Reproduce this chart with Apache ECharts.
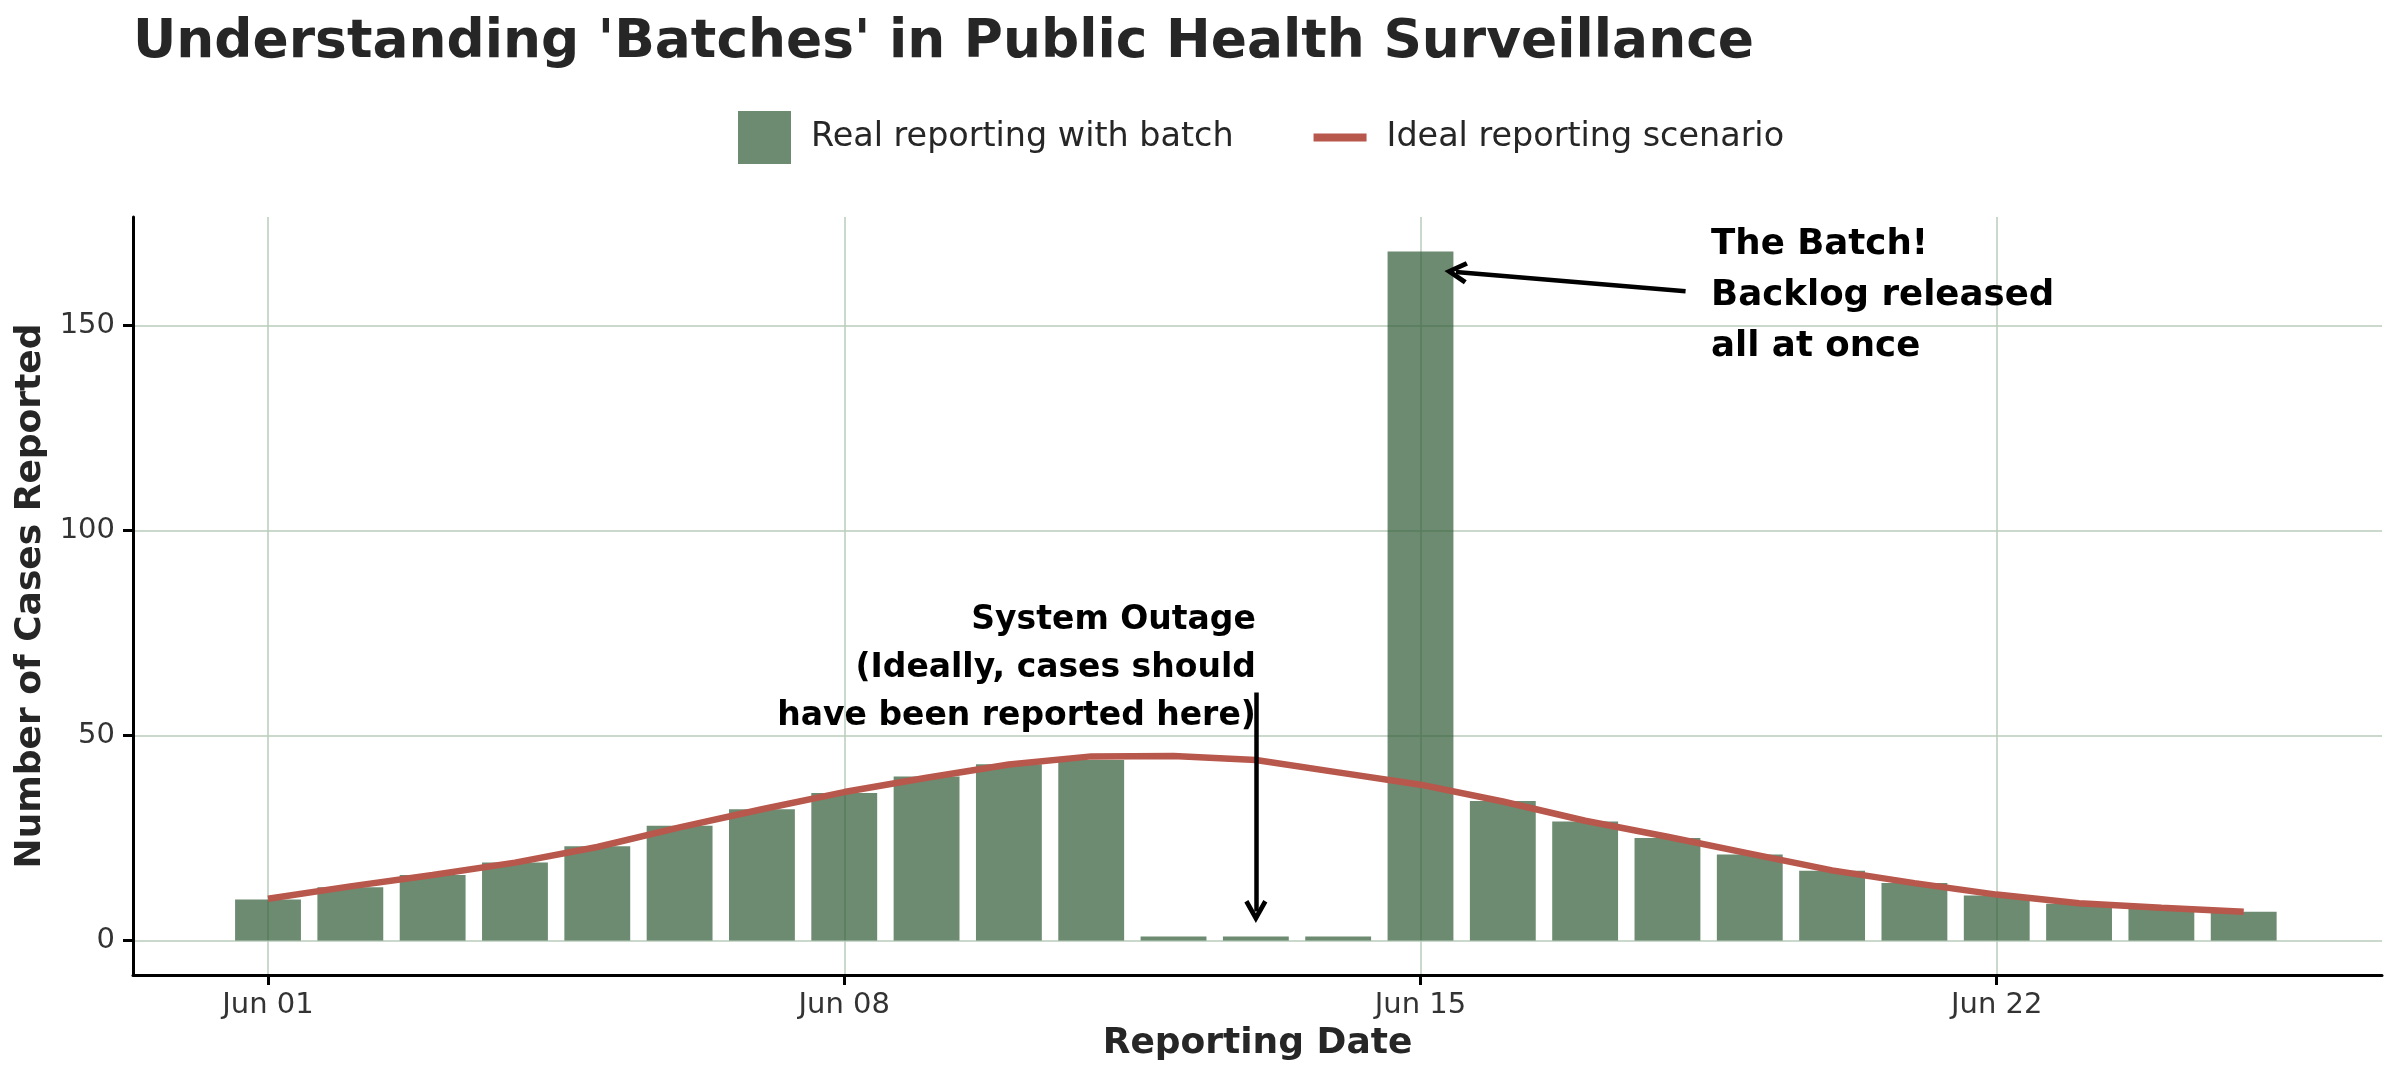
<!DOCTYPE html>
<html>
<head>
<meta charset="utf-8">
<script src="https://cdn.jsdelivr.net/npm/echarts@6/dist/echarts.min.js"></script>
<style>
  html, body { margin: 0; padding: 0; background: #fff; }
  #chart { width: 2400px; height: 1080px; }
</style>
</head>
<body>
<div id="chart"></div>
<script>
// reporting days, Jun 01 .. Jun 25
const reportDates = ['Jun 01', 'Jun 02', 'Jun 03', 'Jun 04', 'Jun 05', 'Jun 06', 'Jun 07',
  'Jun 08', 'Jun 09', 'Jun 10', 'Jun 11', 'Jun 12', 'Jun 13', 'Jun 14', 'Jun 15', 'Jun 16',
  'Jun 17', 'Jun 18', 'Jun 19', 'Jun 20', 'Jun 21', 'Jun 22', 'Jun 23', 'Jun 24', 'Jun 25'];
const realCases = [10, 13, 16, 19, 23, 28, 32, 36, 40, 43, 44, 1, 1, 1, 168,
  34, 29, 25, 21, 17, 14, 11, 9, 8, 7];
const idealCases = [10.2, 13.2, 16.0, 19.0, 22.8, 27.6, 32.0, 36.2, 39.7, 42.9, 44.9, 45.0, 44.0, 41.0, 38.0,
  33.9, 29.2, 25.3, 21.2, 17.1, 14.0, 11.2, 9.1, 8.0, 7.0];

const xTicks = [0, 7, 14, 21];      // index into reportDates
const yTicks = [0, 50, 100, 150];

// annotations (data coordinates: day index, cases)
const batchArrow = [[17.22, 158.3], [14.43, 163.0]];
const outageArrow = [[12.0, 60.5], [12.0, 7.1]];
const batchNote = ['The Batch!', 'Backlog released', 'all at once'];
const batchNoteAt = [17.53, 157.3];
const outageNote = ['System Outage', '(Ideally, cases should', 'have been reported here)'];
const outageNoteAt = [12.0, 66.4];

const xMin = -1.64, xMax = 25.68;
const yMin = -8.4, yMax = 176.4;

const FONT = 'DejaVu Sans';
const gridColor = '#b9cdbb';
const chevron = 'path://M10,0L20,16L16.5,18L10,7.5L3.5,18L0,16Z';
const lineIcon = 'path://M0,0H47V7H0Z';

let myChart = echarts.init(document.getElementById('chart'));

const gridLeft = 133, gridRight = 18;
const pxPerDay = (2400 - gridLeft - gridRight) / (xMax - xMin);

myChart.setOption({
  animation: false,
  backgroundColor: '#fff',
  textStyle: { fontFamily: FONT },
  title: {
    text: "Understanding 'Batches' in Public Health Surveillance",
    left: 128,
    top: 12,
    textStyle: { fontSize: 53.4, fontWeight: 'bold', color: '#262626', fontFamily: FONT }
  },
  legend: {
    left: 733,
    top: 106,
    itemWidth: 53,
    itemHeight: 53,
    itemGap: 80,
    textStyle: { fontSize: 33.4, color: '#262626', fontFamily: FONT, padding: [0, 0, 0, 15] },
    data: [
      { name: 'Real reporting with batch', icon: 'rect' },
      { name: 'Ideal reporting scenario', icon: lineIcon }
    ]
  },
  grid: {
    left: gridLeft,
    right: gridRight,
    top: 217,
    bottom: 105,
    containLabel: false,
    outerBoundsMode: 'none'
  },
  xAxis: {
    type: 'value',
    min: xMin,
    max: xMax,
    name: 'Reporting Date',
    nameLocation: 'middle',
    nameGap: 51,
    nameTextStyle: { fontSize: 36, fontWeight: 'bold', color: '#262626' },
    axisLine: { show: true, onZero: false, lineStyle: { color: '#000', width: 3 } },
    axisTick: { show: true, length: 10, customValues: xTicks, lineStyle: { color: '#000', width: 3 } },
    axisLabel: {
      customValues: xTicks,
      formatter: function (v) { return reportDates[v]; },
      margin: 16,
      fontSize: 29,
      color: '#333'
    },
    splitLine: { show: true, lineStyle: { color: gridColor, width: 1.5 } }
  },
  yAxis: {
    type: 'value',
    min: yMin,
    max: yMax,
    name: 'Number of Cases Reported',
    nameLocation: 'middle',
    nameGap: 82,
    nameTextStyle: { fontSize: 36, fontWeight: 'bold', color: '#262626' },
    axisLine: { show: true, onZero: false, lineStyle: { color: '#000', width: 3 } },
    axisTick: { show: true, length: 10, customValues: yTicks, lineStyle: { color: '#000', width: 3 } },
    axisLabel: { customValues: yTicks, margin: 18, fontSize: 29, color: '#333' },
    splitLine: { show: true, lineStyle: { color: gridColor, width: 1.5 } }
  },
  series: [
    {
      name: 'Real reporting with batch',
      type: 'bar',
      barWidth: 0.8 * pxPerDay,
      itemStyle: { color: 'rgba(47, 90, 52, 0.7)' },
      data: realCases.map(function (v, i) { return [i, v]; })
    },
    {
      name: 'Ideal reporting scenario',
      type: 'line',
      symbol: 'none',
      z: 3,
      lineStyle: { color: '#b8574b', width: 6.5 },
      itemStyle: { color: '#b8574b' },
      data: idealCases.map(function (v, i) { return [i, v]; }),
      markLine: {
        silent: true,
        symbol: ['none', chevron],
        symbolSize: 23,
        label: { show: false },
        lineStyle: { color: '#000', width: 4.5, type: 'solid' },
        data: [
          [{ coord: batchArrow[0] }, { coord: batchArrow[1] }],
          [{ coord: outageArrow[0] }, { coord: outageArrow[1] }]
        ]
      }
    }
  ]
});

// annotation texts, anchored in data space
let pBatch = myChart.convertToPixel({ gridIndex: 0 }, batchNoteAt);
let pOutage = myChart.convertToPixel({ gridIndex: 0 }, outageNoteAt);
myChart.setOption({
  graphic: [
    {
      type: 'text',
      x: pBatch[0],
      y: pBatch[1],
      z: 10,
      style: {
        text: batchNote.join('\n'),
        fontSize: 35.6, fontWeight: 'bold', fontFamily: FONT,
        fill: '#000', align: 'left', verticalAlign: 'middle', lineHeight: 51
      }
    },
    {
      type: 'text',
      x: pOutage[0],
      y: pOutage[1],
      z: 10,
      style: {
        text: outageNote.join('\n'),
        fontSize: 33, fontWeight: 'bold', fontFamily: FONT,
        fill: '#000', align: 'right', verticalAlign: 'middle', lineHeight: 48
      }
    }
  ]
});
</script>
</body>
</html>
